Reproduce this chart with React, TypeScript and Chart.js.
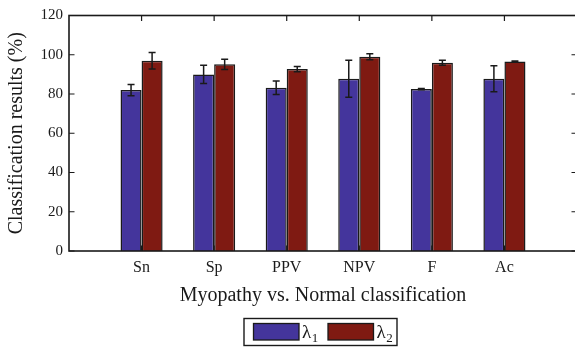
import React, { useEffect, useRef } from 'react';
import { Chart, registerables } from 'chart.js';

Chart.register(...registerables);

// Metric names along the x axis
const categories = ['Sn', 'Sp', 'PPV', 'NPV', 'F', 'Ac'];

// Mean classification results (%) and their error half-widths
const lambda1 = [82.0, 90.0, 83.2, 87.8, 82.5, 87.8];
const lambda1Err = [2.9, 4.7, 3.4, 9.4, 0.3, 6.6];
const lambda2 = [97.0, 95.1, 92.7, 99.0, 95.9, 96.6];
const lambda2Err = [4.2, 2.6, 1.3, 1.5, 1.3, 0.2];

const yTicks = [0, 20, 40, 60, 80, 100, 120];
const seriesSubscripts = ['1', '2'];
const seriesColors = ['#44359c', '#7f1a12'];

const FONT = '"Liberation Serif", "Times New Roman", serif';
const INK = '#1a1a1a';

// Empty slots on both ends leave a blank band before the first and after the last group
const paddedLabels = ['', ...categories, ''];
const pad = (arr: number[]) => [null, ...arr, null];

const framePlugin = {
  id: 'matlabFrame',
  afterDatasetsDraw(chart: any) {
    const { ctx, chartArea: a, scales } = chart;
    const xs = scales.x;
    const ys = scales.y;
    ctx.save();

    // error bars
    ctx.strokeStyle = INK;
    ctx.lineWidth = 1.5;
    chart.data.datasets.forEach((ds: any, i: number) => {
      const meta = chart.getDatasetMeta(i);
      meta.data.forEach((el: any, j: number) => {
        const v = ds.data[j];
        const e = ds.errors[j];
        if (v == null || e == null) return;
        const x = el.x;
        const yt = ys.getPixelForValue(v + e);
        const yb = ys.getPixelForValue(v - e);
        ctx.beginPath();
        ctx.moveTo(x, yt);
        ctx.lineTo(x, yb);
        ctx.moveTo(x - 3.5, yt);
        ctx.lineTo(x + 3.5, yt);
        ctx.moveTo(x - 3.5, yb);
        ctx.lineTo(x + 3.5, yb);
        ctx.stroke();
      });
    });

    // axes box
    ctx.lineWidth = 1.6;
    ctx.strokeRect(a.left, a.top, a.right - a.left, a.bottom - a.top);

    // inward tick marks
    const tl = 5.5;
    ctx.lineWidth = 1.2;
    ctx.beginPath();
    yTicks.forEach((t) => {
      const y = ys.getPixelForValue(t);
      ctx.moveTo(a.left, y);
      ctx.lineTo(a.left + tl, y);
      ctx.moveTo(a.right, y);
      ctx.lineTo(a.right - tl, y);
    });
    categories.forEach((_, k) => {
      const x = xs.getPixelForTick(k + 1);
      ctx.moveTo(x, a.top);
      ctx.lineTo(x, a.top + tl);
      ctx.moveTo(x, a.bottom);
      ctx.lineTo(x, a.bottom - tl);
    });
    ctx.stroke();
    ctx.restore();
  },
  afterDraw(chart: any) {
    const { ctx } = chart;
    ctx.save();
    // legend box
    const bx = 244, by = 318.5, bw = 153, bh = 27;
    ctx.fillStyle = '#ffffff';
    ctx.fillRect(bx, by, bw, bh);
    ctx.strokeStyle = INK;
    ctx.lineWidth = 1.4;
    ctx.strokeRect(bx, by, bw, bh);

    const patchX = [253.5, 328];
    chart.data.datasets.forEach((ds: any, i: number) => {
      const px = patchX[i];
      ctx.fillStyle = ds.backgroundColor;
      ctx.fillRect(px, 323.5, 45.5, 16.5);
      ctx.lineWidth = 1.3;
      ctx.strokeStyle = INK;
      ctx.strokeRect(px, 323.5, 45.5, 16.5);

      ctx.fillStyle = INK;
      ctx.textBaseline = 'alphabetic';
      ctx.textAlign = 'left';
      ctx.font = `19px ${FONT}`;
      const tx = px + 48.5;
      ctx.fillText('λ', tx, 337.5);
      const w = ctx.measureText('λ').width;
      ctx.font = `13px ${FONT}`;
      ctx.fillText(seriesSubscripts[i], tx + w + 0.5, 342);
    });
    ctx.restore();
  },
};

export default function App() {
  const canvasRef = useRef<HTMLCanvasElement | null>(null);

  useEffect(() => {
    if (!canvasRef.current) return;
    Chart.defaults.font.family = FONT;
    Chart.defaults.color = INK;

    const chart = new Chart(canvasRef.current, {
      type: 'bar',
      data: {
        labels: paddedLabels,
        datasets: [
          {
            label: 'λ1',
            data: pad(lambda1),
            errors: pad(lambda1Err),
            backgroundColor: seriesColors[0],
            borderColor: INK,
            borderWidth: 1.5,
            categoryPercentage: 0.58,
            barPercentage: 1,
          } as any,
          {
            label: 'λ2',
            data: pad(lambda2),
            errors: pad(lambda2Err),
            backgroundColor: seriesColors[1],
            borderColor: INK,
            borderWidth: 1.5,
            categoryPercentage: 0.58,
            barPercentage: 1,
          } as any,
        ],
      },
      options: {
        responsive: false,
        animation: false,
        devicePixelRatio: 1,
        layout: { padding: { left: 0, right: 8, top: 15.5, bottom: 43 } },
        plugins: {
          legend: { display: false },
          tooltip: { enabled: false },
        },
        scales: {
          x: {
            offset: false,
            grid: { display: false, drawTicks: false },
            border: { display: false },
            ticks: {
              autoSkip: false,
              maxRotation: 0,
              padding: 7,
              font: { size: 16 },
              color: INK,
            },
            title: {
              display: true,
              text: 'Myopathy vs. Normal classification',
              font: { size: 20 },
              color: INK,
              padding: { top: 0, bottom: 0 },
            },
            afterFit: (s: any) => {
              s.height = 57;
            },
          },
          y: {
            min: 0,
            max: 120,
            grid: { display: false, drawTicks: false },
            border: { display: false },
            ticks: {
              stepSize: 20,
              padding: 6,
              font: { size: 15 },
              color: INK,
            },
            title: {
              display: true,
              text: 'Classification results (%)',
              font: { size: 20 },
              color: INK,
              padding: { top: 5, bottom: 0 },
            },
            afterFit: (s: any) => {
              s.width = 69;
            },
          },
        },
      } as any,
      plugins: [framePlugin],
    });

    return () => chart.destroy();
  }, []);

  return (
    <div style={{ position: 'fixed', left: 0, top: 0, width: 585, height: 351, background: '#fff' }}>
      <canvas ref={canvasRef} width={585} height={351} />
    </div>
  );
}
